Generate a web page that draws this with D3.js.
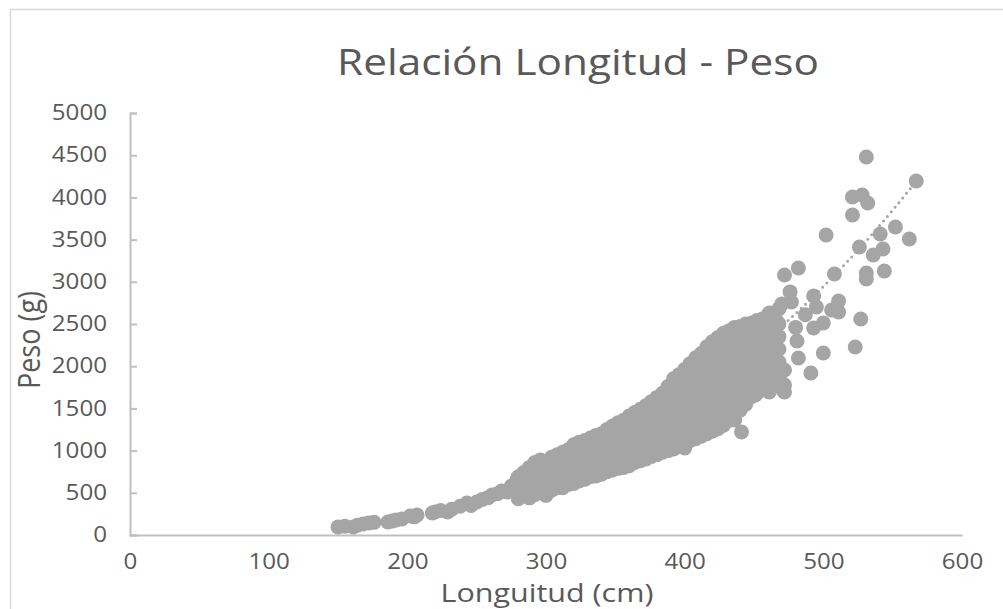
<!DOCTYPE html>
<html>
<head>
<meta charset="utf-8">
<script src="https://cdn.jsdelivr.net/npm/d3@7"></script>
<style>
  html, body { margin: 0; padding: 0; background: #fff; }
  svg { display: block; }
  text { font-family: "Open Sans", "Noto Sans", sans-serif; fill: #595959; }
</style>
</head>
<body>
<svg id="chart" width="1003" height="609"></svg>
<script>
// ---- Data (Longitud cm, Peso g) ----
const title = "Relación Longitud - Peso";
const xTitle = "Longuitud (cm)";
const yTitle = "Peso (g)";
const xTicks = [0, 100, 200, 300, 400, 500, 600];
const yTicks = [0, 500, 1000, 1500, 2000, 2500, 3000, 3500, 4000, 4500, 5000];

// small fish chain
const smallPoints = [
  [150, 95], [155, 105], [161, 95], [164, 115], [168, 130], [172, 142], [176, 150],
  [186, 154], [189, 165], [192, 178], [196, 190], [202, 225], [207, 237], [205, 215],
  [218, 260], [220, 272], [224, 290], [229, 272], [232, 305], [238, 340],
  [243, 379], [246, 350], [250, 391], [254, 420], [258, 440], [261, 474],
  [265, 490], [268, 520], [272, 509], [275, 580], [279, 652]
];

// dense cluster, listed by length with the weights observed at that length
const clusterColumns = [
  [280, [430, 560, 690]],
  [284, [470, 600, 740]],
  [288, [440, 580, 720, 800]],
  [292, [480, 620, 760, 860]],
  [296, [500, 640, 780, 890]],
  [300, [470, 600, 740, 860]],
  [304, [530, 660, 800, 920]],
  [308, [560, 690, 830, 950]],
  [312, [560, 700, 840, 980]],
  [316, [600, 730, 870, 1010]],
  [320, [610, 750, 890, 1030, 1070]],
  [324, [640, 780, 920, 1060, 1100]],
  [328, [660, 800, 940, 1080, 1120]],
  [332, [690, 830, 970, 1110, 1150]],
  [336, [700, 840, 980, 1120, 1180]],
  [340, [720, 860, 1000, 1140, 1200]],
  [344, [750, 890, 1030, 1170, 1250]],
  [348, [770, 910, 1050, 1190, 1290]],
  [352, [790, 930, 1070, 1210, 1330]],
  [356, [800, 940, 1080, 1220, 1360]],
  [360, [820, 960, 1100, 1240, 1380, 1410]],
  [364, [860, 1000, 1140, 1280, 1420, 1450]],
  [368, [880, 1020, 1160, 1300, 1440, 1490]],
  [372, [900, 1040, 1180, 1320, 1460, 1530]],
  [376, [930, 1070, 1210, 1350, 1490, 1580]],
  [380, [950, 1090, 1230, 1370, 1510, 1630]],
  [384, [980, 1120, 1260, 1400, 1540, 1680]],
  [388, [1000, 1140, 1280, 1420, 1560, 1700, 1760]],
  [392, [1020, 1160, 1300, 1440, 1580, 1720, 1850]],
  [396, [1050, 1190, 1330, 1470, 1610, 1750, 1900]],
  [400, [1030, 1170, 1310, 1450, 1590, 1730, 1870, 1960]],
  [404, [1120, 1260, 1400, 1540, 1680, 1820, 1960, 2030]],
  [408, [1140, 1280, 1420, 1560, 1700, 1840, 1980, 2100]],
  [412, [1170, 1310, 1450, 1590, 1730, 1870, 2010, 2150]],
  [416, [1200, 1340, 1480, 1620, 1760, 1900, 2040, 2180, 2230]],
  [420, [1230, 1370, 1510, 1650, 1790, 1930, 2070, 2210, 2290]],
  [424, [1260, 1400, 1540, 1680, 1820, 1960, 2100, 2240, 2340]],
  [428, [1300, 1440, 1580, 1720, 1860, 2000, 2140, 2280, 2390]],
  [432, [1360, 1500, 1640, 1780, 1920, 2060, 2200, 2340, 2420]],
  [436, [1370, 1510, 1650, 1790, 1930, 2070, 2210, 2350, 2460]],
  [440, [1480, 1620, 1760, 1900, 2040, 2180, 2320, 2470]],
  [444, [1550, 1690, 1830, 1970, 2110, 2250, 2390, 2500]],
  [448, [1640, 1780, 1920, 2060, 2200, 2340, 2510]],
  [452, [1680, 1820, 1960, 2100, 2240, 2380, 2540]],
  [456, [1720, 1860, 2000, 2140, 2280, 2420, 2560]],
  [460, [1760, 1900, 2040, 2180, 2320, 2470, 2600]],
  [464, [1800, 1950, 2100, 2250, 2400, 2550]],
  [468, [1870, 2050, 2200, 2350, 2500, 2680]]
];

// scattered large fish / outliers
const largePoints = [
  [441, 1220], [436, 1363], [451, 1659], [461, 1694], [472, 1694], [471, 1718],
  [472, 1777], [472, 1955], [482, 2097], [481, 2299], [491, 1919], [500, 2156],
  [493, 2453], [500, 2512], [470, 2737], [477, 2761], [461, 2630], [495, 2701],
  [493, 2832], [506, 2666], [511, 2773], [511, 2642], [527, 2559], [523, 2227],
  [487, 2610], [480, 2460], [466, 2540], [476, 2880],
  [472, 3081], [482, 3163], [508, 3093], [531, 3104], [531, 3033], [544, 3128],
  [502, 3555], [526, 3412], [543, 3389], [536, 3318], [541, 3566], [552, 3649],
  [562, 3507], [521, 3791], [521, 4005], [528, 4028], [532, 3934], [531, 4479],
  [567, 4194]
];

// power trendline: Peso = a * Longitud^b
const trendA = 7.433e-5;
const trendB = 2.815;

// ---- Build ----
const clusterPoints = clusterColumns.flatMap(([L, ws]) => ws.map(w => [L, w]));
const allPoints = smallPoints.concat(clusterPoints, largePoints);

const svg = d3.select("#chart");
const x = d3.scaleLinear().domain([0, 600]).range([130, 962]);
const y = d3.scaleLinear().domain([0, 5000]).range([535, 113]);
const STRETCH = 1.15;

// chart border
svg.append("rect")
  .attr("x", 10.5).attr("y", 9.5)
  .attr("width", 1100).attr("height", 700)
  .attr("fill", "none").attr("stroke", "#d9d9d9").attr("stroke-width", 1.5);

function stretchedText(cx, cy, size, str, rotate, k = STRETCH) {
  return svg.append("text")
    .attr("transform", `translate(${cx},${cy})` + (rotate ? ` rotate(${rotate})` : "") +
      (rotate ? ` scale(1,${k})` : ` scale(${k},1)`))
    .attr("text-anchor", "middle")
    .style("font-size", size + "px")
    .text(str);
}

// title
stretchedText(578, 75, 36.8, title);

// y axis
const yAxis = svg.append("g")
  .attr("transform", "translate(130,0)")
  .call(d3.axisLeft(y).tickValues(yTicks).tickSize(-7).tickPadding(20).tickFormat(d3.format("d")));
yAxis.select(".domain").attr("stroke", "#bfbfbf").attr("stroke-width", 2);
yAxis.selectAll(".tick line").attr("stroke", "#bfbfbf").attr("stroke-width", 2);
yAxis.selectAll(".tick text")
  .style("font-size", "21px").style("font-family", "'Open Sans', sans-serif")
  .attr("fill", "#595959")
  .attr("transform", `scale(${STRETCH},1)`);

// x axis
const xAxis = svg.append("g")
  .attr("transform", "translate(0,535)")
  .call(d3.axisBottom(x).tickValues(xTicks).tickSize(0).tickPadding(23).tickFormat(d3.format("d")));
xAxis.select(".domain").attr("stroke", "#bfbfbf").attr("stroke-width", 2);
xAxis.selectAll(".tick text")
  .style("font-size", "21px").style("font-family", "'Open Sans', sans-serif")
  .attr("fill", "#595959")
  .attr("y", 0).attr("dy", null)
  .attr("transform", `translate(0,34) scale(${STRETCH},1)`);

// axis titles
stretchedText(547, 601.5, 25, xTitle, null, 1.22);
stretchedText(40, 340, 27, yTitle, -90);

// points
svg.append("g").selectAll("circle")
  .data(allPoints)
  .join("circle")
  .attr("cx", d => x(d[0]))
  .attr("cy", d => y(d[1]))
  .attr("r", 7.5)
  .attr("fill", "#a5a5a5");

// trendline
const [xmin, xmax] = d3.extent(allPoints, d => d[0]);
const trend = d3.range(xmin, xmax + 0.001, (xmax - xmin) / 200).map(L => [L, trendA * Math.pow(L, trendB)]);
svg.append("path")
  .datum(trend)
  .attr("d", d3.line().x(d => x(d[0])).y(d => y(d[1])))
  .attr("fill", "none")
  .attr("stroke", "#a5a5a5")
  .attr("stroke-width", 3)
  .attr("stroke-linecap", "round")
  .attr("stroke-dasharray", "0,6");
</script>
</body>
</html>
